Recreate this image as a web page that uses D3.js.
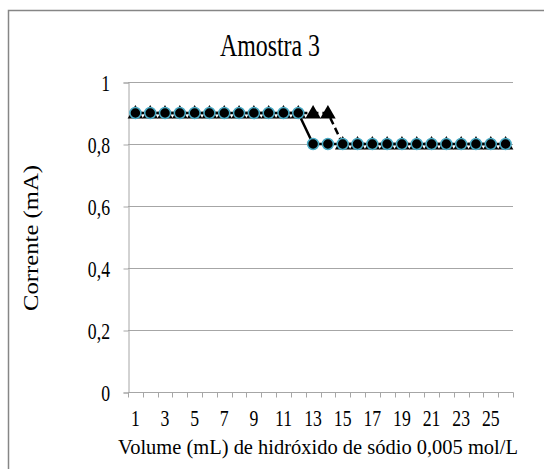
<!DOCTYPE html>
<html lang="en">
<head>
<meta charset="UTF-8">
<title>Amostra 3</title>
<script src="https://d3js.org/d3.v7.min.js"></script>
<style>
  body { margin: 0; background: #fff; }
</style>
</head>
<body>
<div id="chart"></div>
<script>
// volume points (mL)
const volumes = d3.range(1, 27);
// triangle series (dashed)
const serieTriangulo = [0.9,0.9,0.9,0.9,0.9,0.9,0.9,0.9,0.9,0.9,0.9,0.9,0.9,0.9,
                        0.8,0.8,0.8,0.8,0.8,0.8,0.8,0.8,0.8,0.8,0.8,0.8];
// circle series (solid)
const serieCirculo = [0.9,0.9,0.9,0.9,0.9,0.9,0.9,0.9,0.9,0.9,0.9,0.9,
                      0.8,0.8,0.8,0.8,0.8,0.8,0.8,0.8,0.8,0.8,0.8,0.8,0.8,0.8];
const yTicks = [0, 0.2, 0.4, 0.6, 0.8, 1];

const FONT = "'Liberation Serif', 'Times New Roman', Times, serif";
const SQ = 0.77; // text in the original is condensed horizontally
const W = 544, H = 469;
const svg = d3.select('#chart').append('svg')
    .attr('width', W)
    .attr('height', H)
    .style('font-family', FONT);

// outer border (runs off the canvas on right/bottom)
svg.append('rect')
    .attr('x', 8.5).attr('y', 10.5)
    .attr('width', 600).attr('height', 500)
    .attr('fill', 'none')
    .attr('stroke', '#868686')
    .attr('stroke-width', 1.5);

const pLeft = 128, pRight = 513, pTop = 82, pBottom = 392;

const x = d3.scaleBand().domain(volumes).range([pLeft, pRight]);
const y = d3.scaleLinear().domain([0, 1]).range([pBottom, pTop]);

// gridlines
svg.append('g')
    .selectAll('line')
    .data(yTicks.filter(d => d > 0))
    .enter().append('line')
    .attr('x1', pLeft).attr('x2', pRight)
    .attr('y1', d => y(d) + 0.5).attr('y2', d => y(d) + 0.5)
    .attr('stroke', '#a6a6a6')
    .attr('stroke-width', 1);

// y axis
const yAxis = svg.append('g')
    .attr('transform', `translate(${pLeft + 0.5},0.5)`)
    .call(d3.axisLeft(y).tickValues(yTicks).tickSize(5)
        .tickFormat(d => d3.format('.1~f')(d).replace('.', ',')));
yAxis.attr('font-family', null).attr('font-size', null);
yAxis.select('.domain').attr('stroke', '#a6a6a6');
yAxis.selectAll('.tick line').attr('stroke', '#a6a6a6');
yAxis.selectAll('text')
    .style('font-family', FONT)
    .style('font-size', '23px')
    .attr('fill', '#000')
    .attr('x', -18.5 / SQ)
    .attr('dy', '0.33em')
    .attr('transform', `scale(${SQ},1)`);

// x axis with boundary ticks
const xAxisG = svg.append('g').attr('transform', `translate(0,${pBottom + 0.5})`);
xAxisG.append('line')
    .attr('x1', pLeft).attr('x2', pRight + 0.5)
    .attr('stroke', '#a6a6a6');
xAxisG.selectAll('.tk')
    .data(d3.range(volumes.length + 1))
    .enter().append('line')
    .attr('x1', i => Math.round(pLeft + i * x.step()) + 0.5)
    .attr('x2', i => Math.round(pLeft + i * x.step()) + 0.5)
    .attr('y1', 0).attr('y2', 5)
    .attr('stroke', '#a6a6a6');
xAxisG.selectAll('.lb')
    .data(volumes.filter(v => v % 2 === 1))
    .enter().append('text')
    .attr('transform', v => `translate(${x(v) + x.bandwidth() / 2},33) scale(${SQ},1)`)
    .attr('text-anchor', 'middle')
    .style('font-size', '23px')
    .text(v => v);

const cx = v => x(v) + x.bandwidth() / 2;

// triangle series
const triData = volumes.map((v, i) => ({ v: v, c: serieTriangulo[i] }));
svg.append('path')
    .datum(triData)
    .attr('fill', 'none')
    .attr('stroke', '#000')
    .attr('stroke-width', 2.5)
    .attr('stroke-dasharray', '7,4')
    .attr('d', d3.line().x(d => cx(d.v)).y(d => y(d.c)));
svg.append('g').selectAll('path')
    .data(triData)
    .enter().append('path')
    .attr('transform', d => `translate(${cx(d.v)},${y(d.c) + 1})`)
    .attr('d', d3.symbol(d3.symbolTriangle, 105))
    .attr('fill', '#000');

// circle series
const cirData = volumes.map((v, i) => ({ v: v, c: serieCirculo[i] }));
svg.append('path')
    .datum(cirData)
    .attr('fill', 'none')
    .attr('stroke', '#000')
    .attr('stroke-width', 2.5)
    .attr('d', d3.line().x(d => cx(d.v)).y(d => y(d.c)));
svg.append('g').selectAll('circle')
    .data(cirData)
    .enter().append('circle')
    .attr('cx', d => cx(d.v))
    .attr('cy', d => y(d.c))
    .attr('r', 5.5)
    .attr('fill', '#000')
    .attr('stroke', '#4bacc6')
    .attr('stroke-width', 1.5);

// title
svg.append('text')
    .attr('transform', `translate(270,56) scale(${SQ},1)`)
    .attr('text-anchor', 'middle')
    .style('font-size', '31px')
    .text('Amostra 3');

// axis titles
svg.append('text')
    .attr('x', 318).attr('y', 454)
    .attr('text-anchor', 'middle')
    .style('font-size', '21px')
    .attr('textLength', 400)
    .attr('lengthAdjust', 'spacingAndGlyphs')
    .text('Volume (mL) de hidróxido de sódio 0,005 mol/L');

svg.append('text')
    .attr('transform', `translate(38,238) rotate(-90)`)
    .attr('text-anchor', 'middle')
    .style('font-size', '21px')
    .attr('textLength', 146)
    .attr('lengthAdjust', 'spacingAndGlyphs')
    .text('Corrente (mA)');
</script>
</body>
</html>
